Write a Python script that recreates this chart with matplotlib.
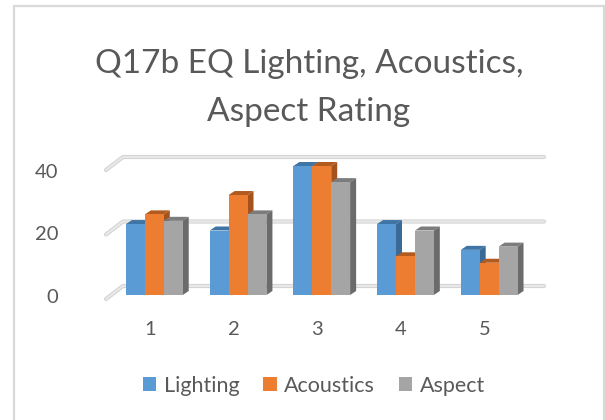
import matplotlib
matplotlib.use('Agg')
import matplotlib.pyplot as plt
from matplotlib.patches import Polygon, Rectangle
from matplotlib.transforms import IdentityTransform, offset_copy

categories = [1, 2, 3, 4, 5]
lighting = [22, 20, 40, 22, 14]
acoustics = [25, 31, 40, 12, 10]
aspect = [23, 25, 35, 20, 15]
y_ticks = [0, 20, 40]

names = ['Lighting', 'Acoustics', 'Aspect']
colors = ['#5b9bd5', '#ed7d31', '#a5a5a5']
top_colors = ['#3f74a6', '#b35a1f', '#7c7c7c']
side_colors = ['#3b6a96', '#a5531c', '#6b6b6b']

W, H = 605, 420
plt.rcParams['font.family'] = ['Lato', 'DejaVu Sans']
text_color = '#595959'

fig = plt.figure(figsize=(W / 100, H / 100), dpi=100)

# outer chart frame, open at the bottom like the cropped screenshot
fig.add_artist(Rectangle((13.5 / W, -0.02), 590 / W, 1.02 - 6 / H, transform=fig.transFigure,
                         fill=False, edgecolor='#d9d9d9', linewidth=1.6))

# axes placed so that the front plane of the bars lines up with the picture
left, right = 112.5, 531.0
bottom, top = 295.0, 166.0
ax = fig.add_axes([left / W, 1 - bottom / H, (right - left) / W, (bottom - top) / H])
ax.set_xlim(0.5, 5.5)
ax.set_ylim(0, 40)
ax.patch.set_alpha(0)
for s in ax.spines.values():
    s.set_visible(False)

# 3d look: walls with gridlines behind the bars
back = offset_copy(ax.transData, fig=fig, x=0, y=9, units='dots')
front = offset_copy(ax.transData, fig=fig, x=0, y=-4, units='dots')
for v in y_ticks:
    y_front = front.transform((1, v))[1]
    y_back = back.transform((1, v))[1]
    xs = [106, 123, 544]
    ys = [y_front, y_back, y_back]
    for lw, c in [(3.0, '#d2d2d2'), (1.6, '#e8e8e8')]:
        ax.plot(xs, ys, transform=IdentityTransform(), color=c, lw=lw, clip_on=False,
                solid_capstyle='round', zorder=1)

# bars
bar_w = 0.226
depth_x, depth_y = 6, 4
to_px = ax.transData
handles = []
for i, (vals, name) in enumerate(zip([lighting, acoustics, aspect], names)):
    pos = [c + (i - 1) * bar_w for c in categories]
    b = ax.bar(pos, vals, bar_w, color=colors[i], label=name, zorder=3 + i * 3)
    handles.append(b)
    for p, v in zip(pos, vals):
        x0, y0 = to_px.transform((p - bar_w / 2, 0))
        x1, y1 = to_px.transform((p + bar_w / 2, v))
        top_pts = [(x0, y1), (x1, y1), (x1 + depth_x, y1 + depth_y), (x0 + depth_x, y1 + depth_y)]
        side_pts = [(x1, y0), (x1, y1), (x1 + depth_x, y1 + depth_y), (x1 + depth_x, y0 + depth_y)]
        ax.add_patch(Polygon(top_pts, closed=True, transform=IdentityTransform(), color=top_colors[i],
                             lw=0, clip_on=False, zorder=2 + i * 3))
        ax.add_patch(Polygon(side_pts, closed=True, transform=IdentityTransform(), color=side_colors[i],
                             lw=0, clip_on=False, zorder=2 + i * 3))

ax.set_xticks(categories)
ax.set_yticks(y_ticks)
ax.tick_params(length=0, labelsize=14.5, labelcolor=text_color)
ax.tick_params(axis='x', pad=19)
ax.tick_params(axis='y', pad=39)

# tick labels sit a bit off the bar plane in the original
for label in ax.get_xticklabels():
    label.set_transform(offset_copy(label.get_transform(), fig=fig, x=-4.5, y=0, units='dots'))
for label, dy in zip(ax.get_yticklabels(), [-1, -3, -5]):
    label.set_transform(offset_copy(label.get_transform(), fig=fig, x=0, y=dy, units='dots'))

fig.text(309 / W, 1 - 88 / H, 'Q17b EQ Lighting, Acoustics,\nAspect Rating', ha='center', va='center',
         fontsize=24, color=text_color, linespacing=1.78)

fig.legend(handles=handles, loc='center', bbox_to_anchor=(314 / W, 1 - 386 / H), ncol=3, frameon=False,
           fontsize=15.5, labelcolor=text_color, handlelength=0.63, handleheight=0.63,
           handletextpad=0.35, columnspacing=1.1, borderpad=0)

fig.savefig('out.png', dpi=100)
